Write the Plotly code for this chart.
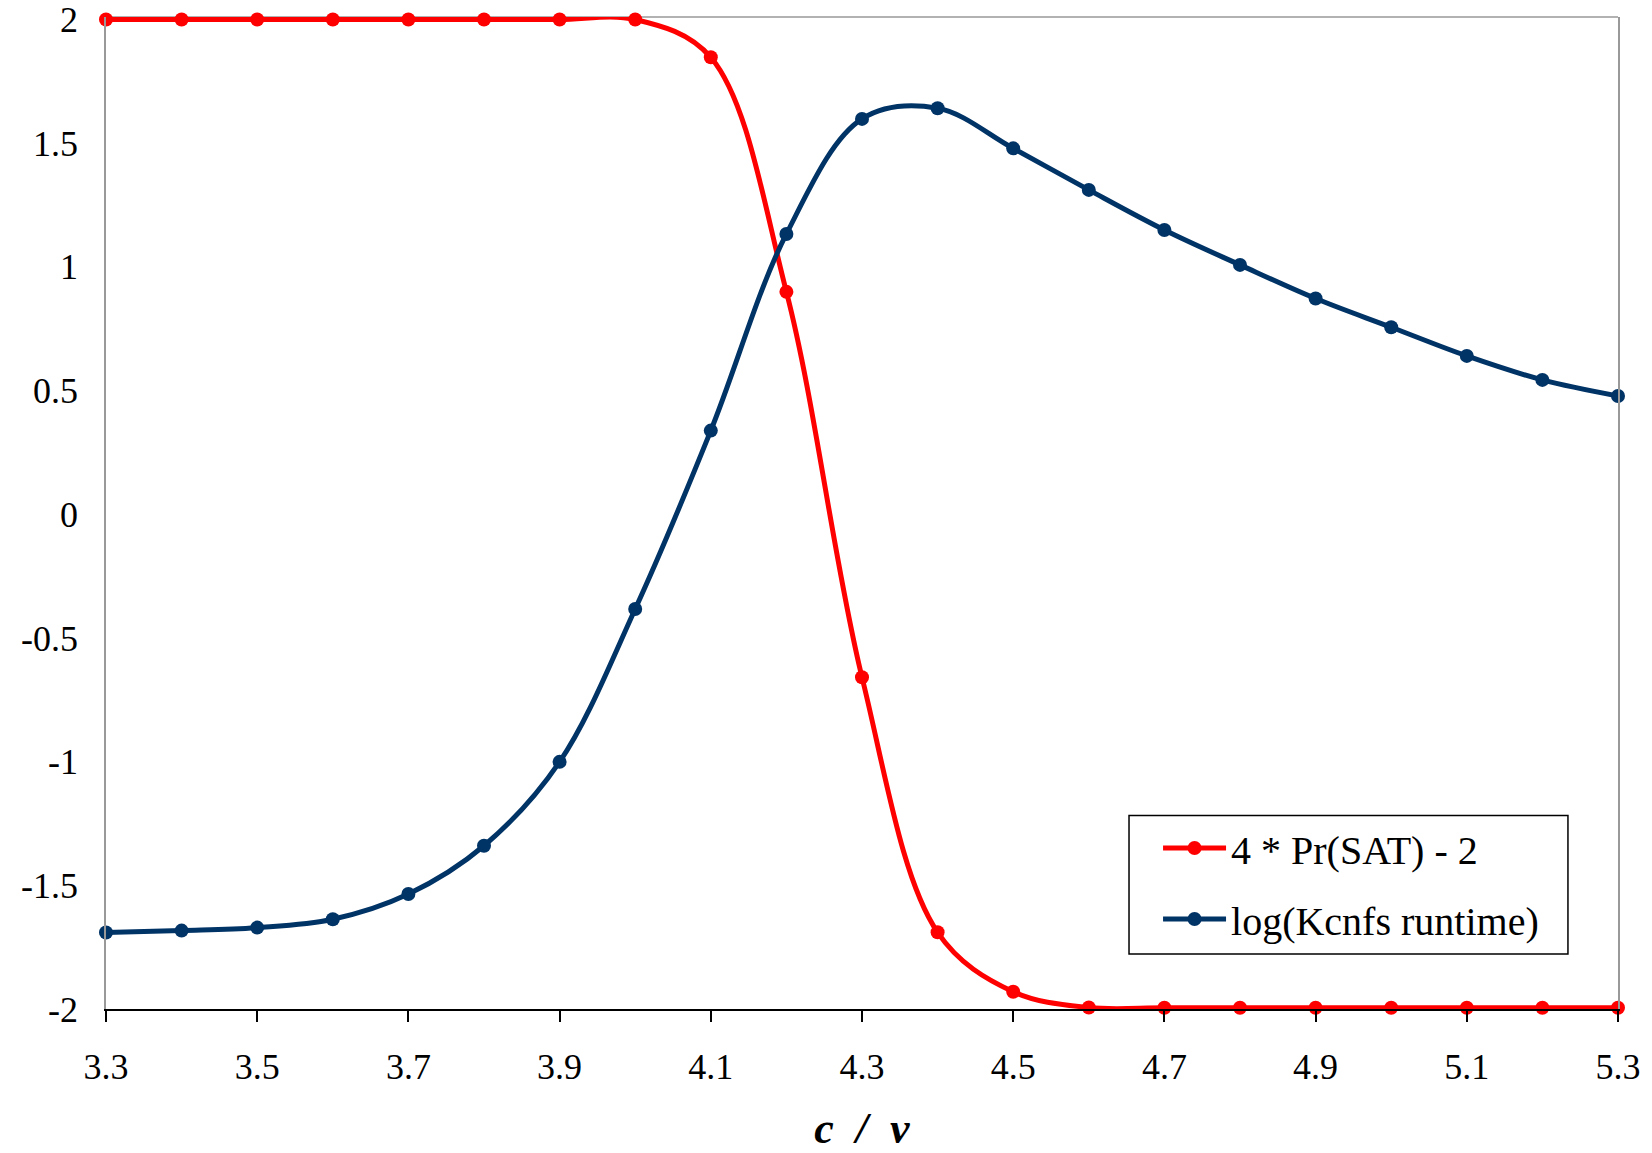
import plotly.graph_objects as go

x_vals = [3.3, 3.4, 3.5, 3.6, 3.7, 3.8, 3.9, 4.0, 4.1, 4.2, 4.3,
          4.4, 4.5, 4.6, 4.7, 4.8, 4.9, 5.0, 5.1, 5.2, 5.3]

pr_sat = [2.0, 2.0, 2.0, 2.0, 2.0, 2.0, 2.0, 2.0, 1.847, 0.899, -0.659,
          -1.690, -1.930, -1.994, -1.995, -1.995, -1.995, -1.995, -1.995, -1.995, -1.995]

log_runtime = [-1.691, -1.683, -1.671, -1.637, -1.535, -1.340, -1.001, -0.383, 0.338, 1.133, 1.598,
               1.641, 1.479, 1.311, 1.149, 1.008, 0.872, 0.756, 0.640, 0.543, 0.478]

series_names = ["4 * Pr(SAT) - 2", "log(Kcnfs runtime)"]
x_ticks = [3.3, 3.5, 3.7, 3.9, 4.1, 4.3, 4.5, 4.7, 4.9, 5.1, 5.3]
y_ticks = [-2, -1.5, -1, -0.5, 0, 0.5, 1, 1.5, 2]

FONT = "Liberation Serif"

fig = go.Figure()
fig.add_trace(go.Scatter(
    x=x_vals, y=pr_sat, name=series_names[0], mode="lines+markers",
    line=dict(color="#FF0000", width=5, shape="spline", smoothing=1.0),
    marker=dict(color="#FF0000", size=14), cliponaxis=False, legendgroup="a"))
fig.add_trace(go.Scatter(
    x=x_vals, y=log_runtime, name=series_names[1], mode="lines+markers",
    line=dict(color="#003366", width=5, shape="spline", smoothing=1.0),
    marker=dict(color="#003366", size=14), cliponaxis=False, legendgroup="b"))

fig.update_layout(
    width=1652, height=1153,
    margin=dict(l=106, r=34, t=17, b=144),
    paper_bgcolor="white", plot_bgcolor="white",
    font=dict(family=FONT, color="black", size=36),
    showlegend=True,
    legend=dict(
        x=0.6958, y=0.195, xanchor="left", yanchor="top",
        bgcolor="rgba(0,0,0,0)", borderwidth=0,
        font=dict(family=FONT, size=40, color="black"),
        tracegroupgap=16, itemwidth=63,
    ),
    xaxis=dict(
        range=[3.3, 5.3], tickvals=x_ticks, ticktext=[f"{v:.1f}" for v in x_ticks],
        showgrid=False, zeroline=False, automargin=False,
        showline=True, linecolor="black", linewidth=1.5,
        ticks="outside", ticklen=11, tickwidth=1.5, tickcolor="black",
        ticklabelstandoff=14,
        title=dict(text="<b><i>c&nbsp;&nbsp;/&nbsp;&nbsp;v</i></b>",
                   font=dict(family=FONT, size=44), standoff=27),
    ),
    yaxis=dict(
        range=[-2, 2.01], tickvals=y_ticks, ticktext=[f"{v:g}" for v in y_ticks],
        showgrid=False, zeroline=False, automargin=False,
        showline=True, linecolor="#999999", linewidth=1.5, mirror=True,
        ticks="", ticklabelstandoff=19,
    ),
    shapes=[
        dict(type="line", xref="paper", yref="paper", x0=0, x1=1, y0=1, y1=1,
             line=dict(color="#999999", width=1.5), layer="below"),
        dict(type="rect", xref="paper", yref="paper", x0=0.6766, x1=0.9669, y0=0.0554, y1=0.1951,
             line=dict(color="black", width=1.5), fillcolor="white", layer="below"),
    ],
)

fig.write_html("out.html")
